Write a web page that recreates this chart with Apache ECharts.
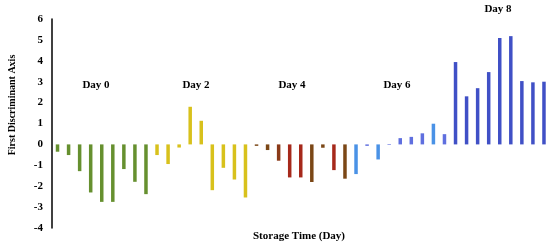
<!DOCTYPE html>
<html>
<head>
<meta charset="utf-8">
<script src="https://cdn.jsdelivr.net/npm/echarts@6/dist/echarts.min.js"></script>
<style>
  html, body { margin: 0; padding: 0; background: #fff; }
  #main { width: 550px; height: 247px; }
</style>
</head>
<body>
<div id="main"></div>
<script>
// sample scores on the first discriminant axis, 9 samples per day
const days = ['Day 0', 'Day 2', 'Day 4', 'Day 6', 'Day 8'];
const day0 = [-0.35, -0.51, -1.28, -2.3, -2.75, -2.75, -1.18, -1.79, -2.38];
const day2 = [-0.51, -0.94, -0.15, 1.8, 1.13, -2.19, -1.12, -1.68, -2.54];
const day4 = [-0.07, -0.27, -0.78, -1.58, -1.58, -1.8, -0.16, -1.23, -1.64];
const day6 = [-1.42, -0.07, -0.72, -0.03, 0.3, 0.36, 0.53, 0.99, 0.49];
const day8 = [3.94, 2.3, 2.69, 3.46, 5.09, 5.18, 3.03, 2.97, 3.0];
const yTicks = [-4, -3, -2, -1, 0, 1, 2, 3, 4, 5, 6];

// bar colours for each day (per sample)
const colors = [
  Array(9).fill('#66902f'),
  Array(9).fill('#d8c11c'),
  ['#7b4716', '#7b4716', '#8a3a18', '#a6291b', '#a6291b', '#7b4716', '#7b4716', '#a6291b', '#7b4716'],
  ['#4a92e6', '#5f6fdf', '#4a92e6', '#5f6fdf', '#5f6fdf', '#5f6fdf', '#5f6fdf', '#4a92e6', '#5f6fdf'],
  Array(9).fill('#4050c6')
];

const groups = [day0, day2, day4, day6, day8];
const categories = [];
const barData = [];
groups.forEach((vals, g) => {
  vals.forEach((v, i) => {
    categories.push(days[g] + '-' + (i + 1));
    barData.push({ value: v, itemStyle: { color: colors[g][i] } });
  });
});

const font = '"Liberation Serif", "Times New Roman", serif';

const chart = echarts.init(document.getElementById('main'));
chart.setOption({
  animation: false,
  grid: { left: 52, top: 19, width: 497.5, height: 209 },
  xAxis: {
    type: 'category',
    data: categories,
    axisLine: { show: false },
    axisTick: { show: false },
    axisLabel: { show: false }
  },
  yAxis: {
    type: 'value',
    min: yTicks[0],
    max: yTicks[yTicks.length - 1],
    interval: 1,
    splitLine: { show: false },
    axisTick: { show: false },
    axisLine: { show: true, lineStyle: { color: '#000', width: 1.5 } },
    axisLabel: {
      margin: 9,
      color: '#000',
      fontFamily: font,
      fontWeight: 'bold',
      fontSize: 11
    }
  },
  series: [{
    type: 'bar',
    data: barData,
    barWidth: 3.5
  }],
  graphic: [
    { type: 'text', x: 12, y: 105, rotation: Math.PI / 2,
      style: { text: 'First Discriminant Axis', font: 'bold 10px ' + font, fill: '#000',
               textAlign: 'center', textVerticalAlign: 'middle' } },
    { type: 'text', x: 299, y: 236,
      style: { text: 'Storage Time (Day)', font: 'bold 11px ' + font, fill: '#000',
               textAlign: 'center', textVerticalAlign: 'middle' } },
    { type: 'text', x: 96, y: 85,
      style: { text: days[0], font: 'bold 11px ' + font, fill: '#000', textAlign: 'center', textVerticalAlign: 'middle' } },
    { type: 'text', x: 196, y: 85,
      style: { text: days[1], font: 'bold 11px ' + font, fill: '#000', textAlign: 'center', textVerticalAlign: 'middle' } },
    { type: 'text', x: 292, y: 85,
      style: { text: days[2], font: 'bold 11px ' + font, fill: '#000', textAlign: 'center', textVerticalAlign: 'middle' } },
    { type: 'text', x: 397, y: 85,
      style: { text: days[3], font: 'bold 11px ' + font, fill: '#000', textAlign: 'center', textVerticalAlign: 'middle' } },
    { type: 'text', x: 498, y: 9,
      style: { text: days[4], font: 'bold 11px ' + font, fill: '#000', textAlign: 'center', textVerticalAlign: 'middle' } }
  ]
});
</script>
</body>
</html>
